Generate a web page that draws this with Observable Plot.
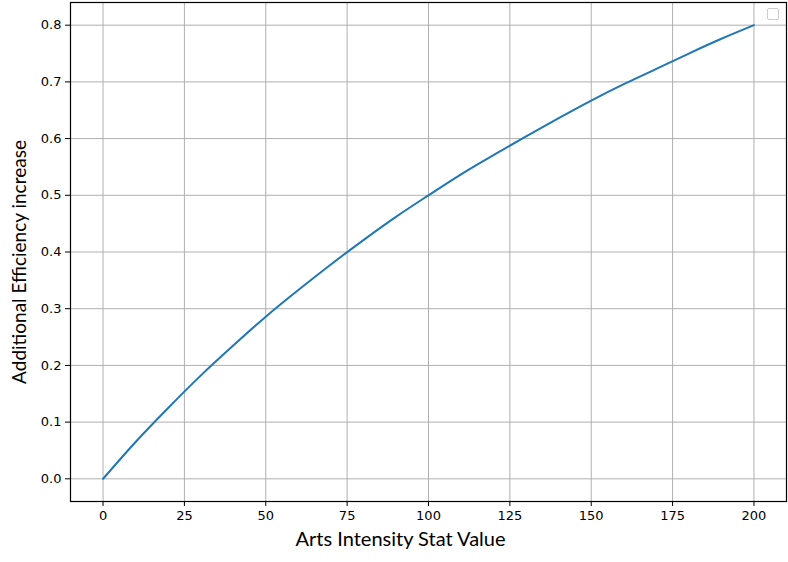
<!DOCTYPE html>
<html><head><meta charset="utf-8">
<script src="https://cdn.jsdelivr.net/npm/d3@7"></script>
<script src="https://cdn.jsdelivr.net/npm/@observablehq/plot@0.6"></script>
<style>
body{margin:0;background:#fff;}
#wrap{position:relative;width:788px;height:562px;}
#leg{position:absolute;left:767px;top:8px;width:10px;height:10px;border:1px solid #ccc;border-radius:2px;background:#fff;}
</style></head>
<body><div id="wrap"><div id="leg"></div></div>
<script>
const statValues = [0,10,20,30,40,50,60,70,80,90,100,110,120,130,140,150,160,170,180,190,200];
const efficiency = [0,0.065,0.125,0.182,0.235,0.286,0.333,0.378,0.421,0.462,0.5,0.537,0.571,0.604,0.636,0.667,0.696,0.723,0.75,0.776,0.8];
const xTicks = [0,25,50,75,100,125,150,175,200];
const yTicks = [0,0.1,0.2,0.3,0.4,0.5,0.6,0.7,0.8];
const xLabel = "Arts Intensity Stat Value";
const yLabel = "Additional Efficiency increase";

const data = statValues.map((x,i)=>({x, y: efficiency[i]}));

const chart = Plot.plot({
  width: 788, height: 562,
  marginLeft: 70, marginRight: 2, marginTop: 2, marginBottom: 61,
  style: {fontFamily: "DejaVu Sans", fontSize: "13px", color: "#000", background: "#fff"},
  x: {domain: [-10, 210], ticks: xTicks, tickFormat: d => String(d), label: null},
  y: {domain: [-0.04, 0.84], ticks: yTicks, tickFormat: d => d.toFixed(1), label: null},
  marks: [
    Plot.gridX(xTicks, {stroke: "#b0b0b0", strokeOpacity: 1, strokeWidth: 1}),
    Plot.gridY(yTicks, {stroke: "#b0b0b0", strokeOpacity: 1, strokeWidth: 1}),
    Plot.line(data, {x: "x", y: "y", stroke: "#1f77b4", strokeWidth: 2, curve: "natural"}),
    Plot.frame({stroke: "#000", strokeWidth: 1.2}),
    Plot.axisX(xTicks, {tickSize: 5, tickPadding: 4, fontSize: 13, fontFamily: "DejaVu Sans", label: null, stroke: "#000"}),
    Plot.axisY(yTicks, {tickSize: 5, tickPadding: 4, fontSize: 13, fontFamily: "DejaVu Sans", label: null, tickFormat: d => d.toFixed(1), stroke: "#000"}),
    Plot.text([xLabel], {text: d => d, frameAnchor: "bottom", textAnchor: "middle", lineAnchor: "middle", dx: -28, dy: 38, fontSize: 20, fontFamily: "Lato", fill: "#000"}),
    Plot.text([yLabel], {text: d => d, frameAnchor: "left", textAnchor: "middle", lineAnchor: "middle", dx: -51, dy: 10, rotate: -90, fontSize: 19, fontFamily: "Lato", fill: "#000"})
  ]
});
document.getElementById("wrap").prepend(chart);
</script></body></html>
